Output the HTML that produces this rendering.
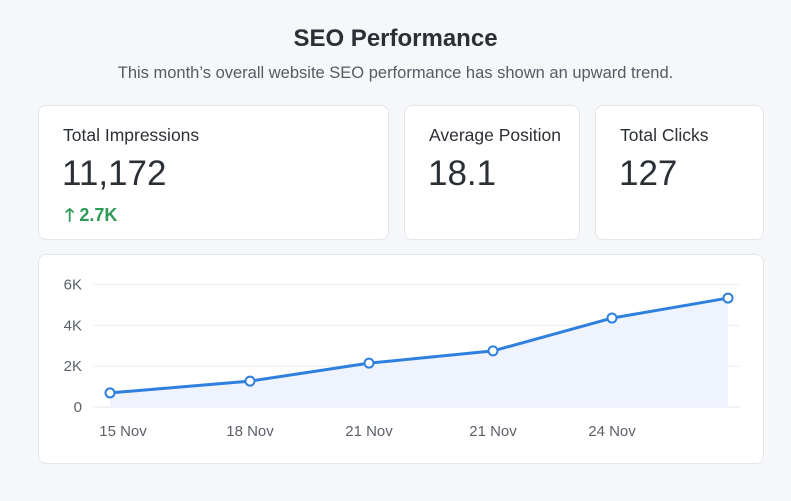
<!DOCTYPE html>
<html><head><meta charset="utf-8">
<style>
body{margin:0;width:791px;height:501px;background:#f6f7f9;font-family:"Liberation Sans",sans-serif;color:#2b2f36;position:relative;overflow:hidden}
.card{position:absolute;background:#fff;border:1px solid #e3e6ea;border-radius:8px;box-sizing:border-box}
.lbl{position:absolute;left:24px;top:19px;font-size:17.5px;color:#2b2f36}
.val{position:absolute;left:23px;top:48px;font-size:35px;color:#2b2f36}
</style></head><body>
<div style="position:absolute;top:25px;width:100%;text-align:center;font-size:24px;font-weight:bold;color:#2b2f36">SEO Performance</div>
<div style="position:absolute;top:64px;width:100%;text-align:center;font-size:16.5px;color:#555b64">This month’s overall website SEO performance has shown an upward trend.</div>
<div class="card" style="left:38px;top:105px;width:351px;height:135px">
<div class="lbl">Total Impressions</div>
<div class="val">11,172</div>
<div style="position:absolute;left:26px;top:97px;font-size:18px;font-weight:bold;color:#2e9a57"><span style="font-family:'DejaVu Sans',sans-serif">🡑</span> 2.7K</div>
</div>
<div class="card" style="left:404px;top:105px;width:176px;height:135px">
<div class="lbl">Average Position</div>
<div class="val">18.1</div>
</div>
<div class="card" style="left:595px;top:105px;width:169px;height:135px">
<div class="lbl">Total Clicks</div>
<div class="val">127</div>
</div>
<div class="card" style="left:38px;top:254px;width:726px;height:210px"></div>
<svg id="chart" width="791" height="501" style="position:absolute;left:0;top:0"></svg>
<script>
const categories=["15 Nov","18 Nov","21 Nov","21 Nov","24 Nov",""];
const values=[0.69,1.27,2.15,2.75,4.36,5.34];
const yTicks=[0,2,4,6];
const yTickLabels=["0","2K","4K","6K"];
const xPos=[110,250,369,493,612,728];
const svg=document.getElementById('chart');
const NS="http://www.w3.org/2000/svg";
const y=v=>407-v*20.4;
const x=i=>xPos[i];
function mk(t,a){const e=document.createElementNS(NS,t);for(const k in a)e.setAttribute(k,a[k]);svg.appendChild(e);return e;}
yTicks.forEach((t,i)=>{
 const g=mk('line',{x1:93,x2:740,y1:y(t),y2:y(t),stroke:i==0?'#e1e4e8':'#eceff2','stroke-width':1});
 
 
 const l=mk('text',{x:82,y:y(t)+5,'text-anchor':'end','font-size':15,fill:'#5b616a','font-family':'Liberation Sans, sans-serif'});
 l.textContent=yTickLabels[i];
 
 
});
categories.forEach((c,i)=>{
 if(!c)return;
 const l=mk('text',{x:i==0?123:x(i),y:436,'text-anchor':'middle','font-size':15,fill:'#5b616a','font-family':'Liberation Sans, sans-serif'});
 l.textContent=c;
 
 
});
let d=values.map((v,i)=>(i?'L':'M')+x(i)+','+y(v)).join(' ');
const area=mk('path',{d:d+` L${x(values.length-1)},${y(0)} L${x(0)},${y(0)} Z`,fill:'#eef3fd'});


const line=mk('path',{d:d,fill:'none',stroke:'#2f80de','stroke-width':3,'stroke-linejoin':'round'});


values.forEach((v,i)=>{
 const p=mk('circle',{cx:x(i),cy:y(v),r:4.5,fill:'#fff',stroke:'#2f80de','stroke-width':2});
 
 
});
</script>
</body></html>
